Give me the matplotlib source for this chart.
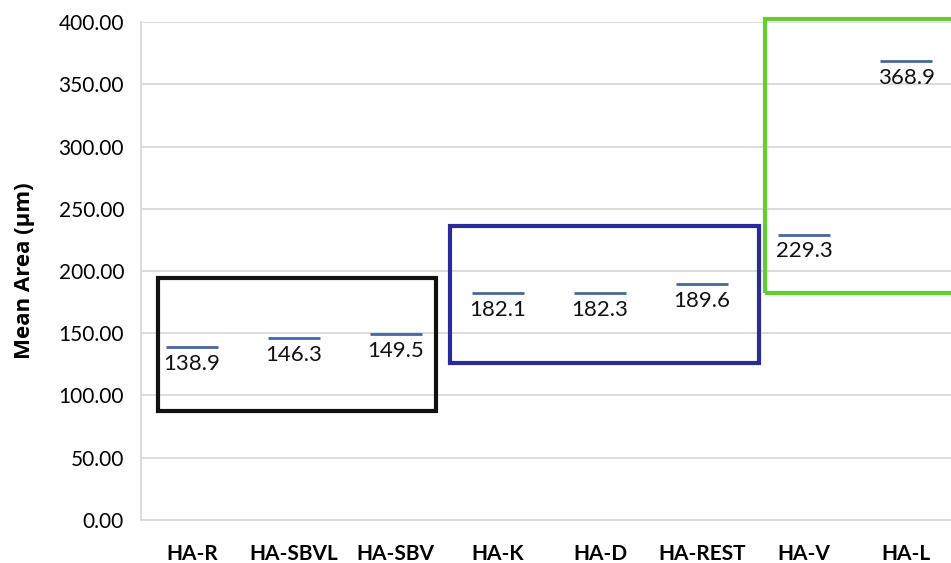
import matplotlib.pyplot as plt
from matplotlib.patches import Rectangle

#########################################
# Data
#########################################

groups = ["HA-R", "HA-SBVL", "HA-SBV", "HA-K", "HA-D", "HA-REST", "HA-V", "HA-L"]
mean_area = [138.9, 146.3, 149.5, 182.1, 182.3, 189.6, 229.3, 368.9]
y_ticks = [0, 50, 100, 150, 200, 250, 300, 350, 400]

# group boxes: (x0, x1, y0, y1, colour)
boxes = [
    (-0.33, 2.39, 87.6, 194.4, "#111111"),
    (2.53, 5.56, 126.1, 236.1, "#2a2a9c"),
    (5.62, 7.6, 182.3, 402.4, "#66cc33"),
]

plt.rcParams["font.family"] = ["Lato", "DejaVu Sans"]

#########################################
# Plot
#########################################

fig = plt.figure(figsize=(9.51, 5.63), dpi=100)
ax = fig.add_axes([0.148, 0.0764, 0.852, 0.8845])

x = list(range(len(groups)))
ax.hlines(mean_area, [i - 0.255 for i in x], [i + 0.255 for i in x],
          color="#44689e", linewidth=2, zorder=3)

for i, v in zip(x, mean_area):
    ax.annotate("{:.1f}".format(v), (i, v), xytext=(0, -5),
                textcoords="offset points", ha="center", va="top",
                fontsize=16, color="#111111", zorder=4)

for x0, x1, y0, y1, col in boxes:
    ax.add_patch(Rectangle((x0, y0), x1 - x0, y1 - y0, fill=False,
                           edgecolor=col, linewidth=3, zorder=5,
                           clip_on=False))

ax.set_xlim(-0.5, 7.44)
ax.set_ylim(0, 400)
ax.set_yticks(y_ticks)
ax.set_yticklabels(["{:.2f}".format(t) for t in y_ticks], fontsize=15)
ax.set_xticks(x)
ax.set_xticklabels(groups, fontsize=15, fontweight="bold")
ax.tick_params(length=0)
ax.tick_params(axis="x", pad=17)
ax.tick_params(axis="y", pad=12)

ax.grid(axis="y", color="#d9d9d9", linewidth=1.3)
ax.set_axisbelow(True)
for side in ["top", "right"]:
    ax.spines[side].set_visible(False)
ax.spines["left"].set_color("#d9d9d9")
ax.spines["bottom"].set_color("#d9d9d9")
ax.spines["left"].set_linewidth(1.3)
ax.spines["bottom"].set_linewidth(1.3)

ax.set_ylabel("Mean Area (µm)", fontsize=16, fontweight="bold",
              family=["Open Sans", "DejaVu Sans"], labelpad=17)

fig.savefig("out.png", dpi=100)
